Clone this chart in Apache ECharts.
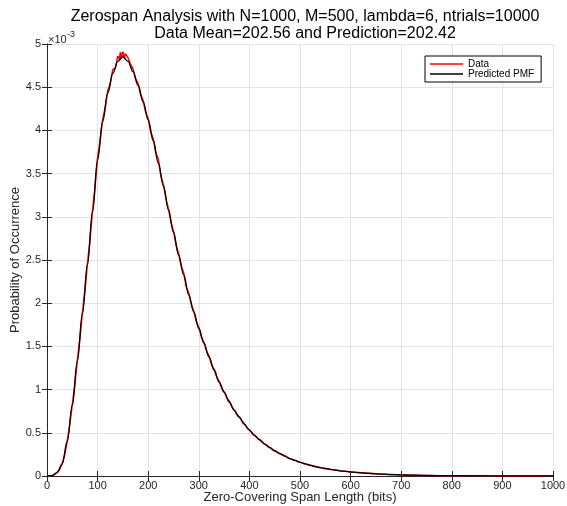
<!DOCTYPE html>
<html>
<head>
<meta charset="utf-8">
<script src="https://cdn.jsdelivr.net/npm/echarts@6/dist/echarts.min.js"></script>
<style>
html,body{margin:0;padding:0;background:#fff;}
#chart{width:567px;height:506px;}
</style>
</head>
<body>
<div id="chart"></div>
<script>
// Values in units of 1e-3 (axis shows x10^-3)
const titleLines = ["Zerospan Analysis with N=1000, M=500, lambda=6, ntrials=10000", "Data Mean=202.56 and Prediction=202.42"];
const xTicks = [0,100,200,300,400,500,600,700,800,900,1000];
const yTicks = [0,0.5,1,1.5,2,2.5,3,3.5,4,4.5,5];

const dataX = [0,5,10,15,20,25,30,35,40,45,50,55,60,65,70,75,80,85,90,95,100,105,110,115,120,125,130,135,140,143,145,147,150,153,155,158,160,165,170,175,180,185,190,195,200,205,210,215,220,225,230,235,240,245,250,255,260,265,270,275,280,285,290,295,300,305,310,315,320,325,330,335,340,345,350,355,360,365,370,375,380,385,390,395,400,410,420,430,440,450,460,470,480,490,500,510,520,530,540,550,560,570,580,590,600,650,700,750,800,850,900,950,1000];
const dataY = [0,0.001,0.006,0.016,0.043,0.078,0.145,0.247,0.405,0.597,0.826,1.064,1.338,1.592,1.893,2.151,2.462,2.738,3.075,3.352,3.688,3.884,4.126,4.262,4.458,4.541,4.702,4.718,4.862,4.82,4.905,4.84,4.912,4.83,4.889,4.88,4.842,4.768,4.712,4.598,4.545,4.418,4.346,4.212,4.138,3.985,3.902,3.741,3.668,3.475,3.372,3.214,3.092,2.938,2.834,2.672,2.578,2.436,2.352,2.196,2.118,1.992,1.908,1.791,1.722,1.612,1.548,1.452,1.391,1.296,1.238,1.155,1.097,1.026,0.975,0.911,0.866,0.806,0.765,0.716,0.684,0.637,0.604,0.561,0.533,0.472,0.418,0.372,0.331,0.292,0.258,0.232,0.201,0.181,0.158,0.141,0.124,0.111,0.097,0.088,0.076,0.069,0.059,0.054,0.046,0.025,0.013,0.007,0.0035,0.0018,0.0009,0.0004,0.0002];

const predX = [0,10,20,30,40,50,60,70,80,90,100,110,120,130,140,150,160,170,180,190,200,210,220,230,240,250,260,270,280,290,300,310,320,330,340,350,360,370,380,390,400,410,420,430,440,450,460,470,480,490,500,510,520,530,540,550,560,570,580,590,600,620,640,660,680,700,720,740,760,780,800,850,900,950,1000];
const predY = [0,0.005,0.04,0.14,0.40,0.82,1.33,1.88,2.45,3.06,3.66,4.10,4.43,4.66,4.80,4.85,4.80,4.68,4.52,4.33,4.12,3.88,3.62,3.36,3.08,2.82,2.56,2.33,2.10,1.90,1.71,1.54,1.38,1.23,1.09,0.97,0.86,0.76,0.68,0.60,0.53,0.47,0.42,0.37,0.33,0.29,0.26,0.23,0.20,0.18,0.16,0.14,0.125,0.11,0.098,0.087,0.077,0.068,0.060,0.053,0.047,0.037,0.029,0.022,0.017,0.013,0.010,0.008,0.006,0.0045,0.0035,0.0018,0.0009,0.0004,0.0002];

const FONT = "'Liberation Sans', Arial, Helvetica, sans-serif";
const AX = '#262626';
const G = {left:47, right:14, top:44, bottom:30, containLabel:false, outerBoundsMode:'none'};

const chart = echarts.init(document.getElementById('chart'), null, {renderer:'canvas'});
const axisCommon = {
  type:'value', min:0,
  axisLine:{show:true, lineStyle:{color:AX, width:1}},
  axisTick:{show:true, inside:true, length:5, lineStyle:{color:AX}},
  splitLine:{show:false},
};
chart.setOption({
  animation:false,
  backgroundColor:'#fff',
  title:{
    text: titleLines.join('\n'),
    left:300, textAlign:'center', top:3,
    textStyle:{fontFamily:FONT, fontSize:16, fontWeight:'normal', color:'#000', lineHeight:17}
  },
  legend:{
    orient:'vertical', left:425, top:56,
    backgroundColor:'#fff', borderColor:'#000', borderWidth:1,
    padding:[3,7,3,5], itemGap:0, itemWidth:33, itemHeight:1.5, icon:'rect',
    textStyle:{fontFamily:FONT, fontSize:10, color:'#000', lineHeight:10},
    data:['Data','Predicted PMF']
  },
  grid:G,
  xAxis:[
    Object.assign({}, axisCommon, {
      max:1000, interval:100, position:'bottom',
      splitLine:{show:true, lineStyle:{color:'#e3e3e3', width:1}},
      axisLabel:{show:true, margin:4, color:AX, fontFamily:FONT, fontSize:11,
        formatter: v => String(v), customValues: xTicks},
      name:'Zero-Covering Span Length (bits)', nameLocation:'middle', nameGap:15, nameMoveOverlap:false,
      nameTextStyle:{fontFamily:FONT, fontSize:13, color:AX}
    }),
    Object.assign({}, axisCommon, {max:1000, interval:100, position:'top', axisLabel:{show:false}})
  ],
  yAxis:[
    Object.assign({}, axisCommon, {
      max:5, interval:0.5, position:'left',
      splitLine:{show:true, lineStyle:{color:'#e3e3e3', width:1}},
      axisLabel:{show:true, margin:6, color:AX, fontFamily:FONT, fontSize:11,
        formatter: v => String(v), customValues: yTicks},
      name:'Probability of Occurrence', nameLocation:'middle', nameGap:25, nameRotate:90, nameMoveOverlap:false,
      nameTextStyle:{fontFamily:FONT, fontSize:13, color:AX}
    }),
    Object.assign({}, axisCommon, {max:5, interval:0.5, position:'right', axisLabel:{show:false}})
  ],
  graphic:[
    {type:'text', left:48, top:34, style:{text:'\u00d710', font:"11px "+FONT, fill:AX}},
    {type:'text', left:67, top:30, style:{text:'-3', font:"9px "+FONT, fill:AX}}
  ],
  series:[
    {name:'Data', type:'line', xAxisIndex:0, yAxisIndex:0, showSymbol:false, symbol:'none',
      data: dataX.map((x,i)=>[x, dataY[i]]),
      lineStyle:{color:'#ff0000', width:1.5}, itemStyle:{color:'#ff0000'}},
    {name:'Predicted PMF', type:'line', xAxisIndex:0, yAxisIndex:0, showSymbol:false, symbol:'none',
      smooth:0.4, smoothMonotone:'x',
      data: predX.map((x,i)=>[x, predY[i]]),
      lineStyle:{color:'#000', width:1.3}, itemStyle:{color:'#000'}}
  ]
});
</script>
</body>
</html>
